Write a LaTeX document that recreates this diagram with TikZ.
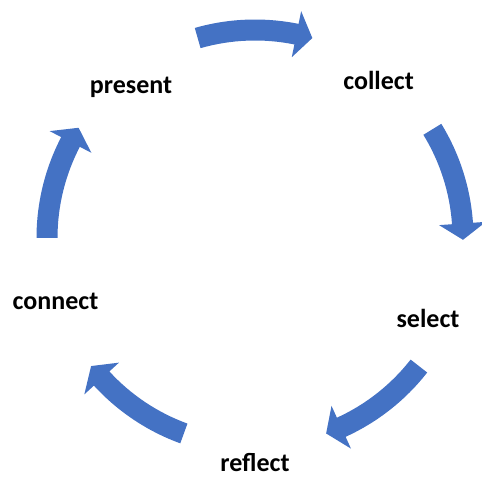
\documentclass[tikz,border=0pt]{standalone}
\usepackage{fontspec}
\setmainfont{Carlito}
\definecolor{arrowblue}{HTML}{4472C4}
\tikzset{
  lbl/.style={font=\bfseries\fontsize{26}{30}\selectfont, anchor=base, inner sep=0pt, text=black},
  cyc/.style={fill=arrowblue, draw=none}
}
\newcommand{\cycarrow}[1]{%
  \fill[cyc, shift={(255,239)}]
    ({#1+16}:197.5) arc[start angle={#1+16}, end angle={#1-11.5}, radius=197.5]
    -- ({#1-11.5}:184.5) -- ({#1-16}:208) -- ({#1-11.5}:231.5) -- ({#1-11.5}:218.5)
    arc[start angle={#1-11.5}, end angle={#1+16}, radius=218.5] -- cycle;}
\begin{document}
\begin{tikzpicture}[x=1pt,y=1pt]
\useasboundingbox (0,0) rectangle (482,477);
\node[lbl] (present) at (131,383.7) {present};
\node[lbl] (collect) at (378.5,387.7) {collect};
\node[lbl] (select) at (428,149.3) {select};
\node[lbl] (reflect) at (255,5.7) {reflect};
\node[lbl] (connect) at (55.5,167.7) {connect};
\cycarrow{90}
\cycarrow{15.5}
\cycarrow{-54}
\cycarrow{-126}
\cycarrow{164}
\end{tikzpicture}
\end{document}
